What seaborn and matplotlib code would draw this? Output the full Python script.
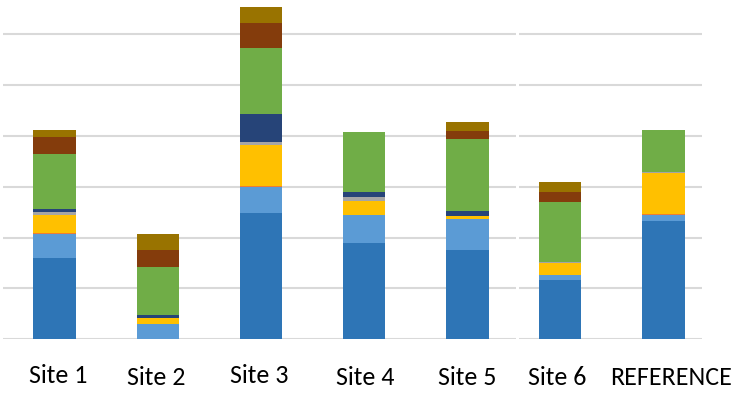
import matplotlib
matplotlib.use("Agg")
import matplotlib.pyplot as plt
import matplotlib.transforms as mtransforms
import seaborn as sns
import pandas as pd
import numpy as np

sites_left = ["Site 1", "Site 2", "Site 3", "Site 4", "Site 5"]
sites_right = ["Site 6", "REFERENCE"]
series = ["S1", "S2", "S3", "S4", "S5", "S6", "S7", "S8", "S9"]
colors = ["#2E75B6", "#5B9BD5", "#ED7D31", "#FFC000", "#A5A5A5",
          "#264478", "#70AD47", "#843C0C", "#997300"]

site1 = [16.0, 4.7, 0.2, 3.5, 0.65, 0.55, 10.9, 3.3, 1.3]
site2 = [0.0, 3.1, 0.0, 1.0, 0.0, 0.6, 9.6, 3.3, 3.0]
site3 = [24.9, 5.0, 0.3, 7.9, 0.7, 5.4, 13.0, 5.0, 3.0]
site4 = [18.9, 5.6, 0.0, 2.75, 0.65, 1.0, 11.85, 0.0, 0.0]
site5 = [17.6, 6.0, 0.0, 0.7, 0.0, 1.0, 14.1, 1.6, 1.7]
site6 = [11.65, 1.05, 0.0, 2.3, 0.25, 0.0, 11.7, 1.95, 2.0]
reference = [23.3, 1.05, 0.25, 8.05, 0.25, 0.0, 8.2, 0.0, 0.0]

# small label nudges (px) seen in the reference
label_dx_left = [4, -1.5, -1.5, 1, 0]
label_dy_left = [0, -2.5, 0, -2.5, -2.5]
label_dx_right = [-3, 7.5]
label_dy_right = [-2.5, -2.5]

sns.set_theme(style="white")
plt.rcParams["font.family"] = ["Carlito", "Liberation Sans", "DejaVu Sans"]

W, H = 742, 398
fig = plt.figure(figsize=(W / 100, H / 100), dpi=100)

def frame(names, rows):
    recs = []
    for n, r in zip(names, rows):
        cum = np.cumsum(r)
        for s, c in zip(series, cum):
            recs.append({"site": n, "series": s, "cum": c})
    return pd.DataFrame(recs)

ymax = 66
base_px = 339.3
unit_px = 5.09
ax_h = ymax * unit_px

def make_axes(x0, x1, names, rows, xlim, dxs, dys):
    ax = fig.add_axes([x0 / W, (H - base_px) / H, (x1 - x0) / W, ax_h / H])
    df = frame(names, rows)
    for s, col in reversed(list(zip(series, colors))):
        sub = df[df["series"] == s]
        sns.barplot(data=sub, x="site", y="cum", order=names, color=col,
                    width=0.41, errorbar=None, saturation=1, ax=ax,
                    edgecolor="none", linewidth=0)
    ax.set_xlim(*xlim)
    ax.set_ylim(0, ymax)
    ax.set_yticks(np.arange(0, 61, 10))
    ax.yaxis.grid(True, color="#D9D9D9", linewidth=1.5)
    ax.xaxis.grid(False)
    ax.set_axisbelow(True)
    ax.set_yticklabels([])
    ax.set_xlabel("")
    ax.set_ylabel("")
    for sp in ax.spines.values():
        sp.set_visible(False)
    ax.tick_params(axis="x", length=0, pad=17.5, labelsize=18.7, colors="black")
    ax.tick_params(axis="y", length=0)
    for lab, dx, dy in zip(ax.get_xticklabels(), dxs, dys):
        off = mtransforms.ScaledTranslation(dx / 100, dy / 100, fig.dpi_scale_trans)
        lab.set_transform(lab.get_transform() + off)
    return ax

cw = 103.2
make_axes(3, 516, sites_left, [site1, site2, site3, site4, site5],
          (-0.5, -0.5 + 513 / cw), label_dx_left, label_dy_left)
make_axes(519.3, 701.7, sites_right, [site6, reference],
          (-(560 - 519.3) / 103.5, 1 + (701.7 - 663.5) / 103.5),
          label_dx_right, label_dy_right)

fig.savefig("out.png", dpi=100)
